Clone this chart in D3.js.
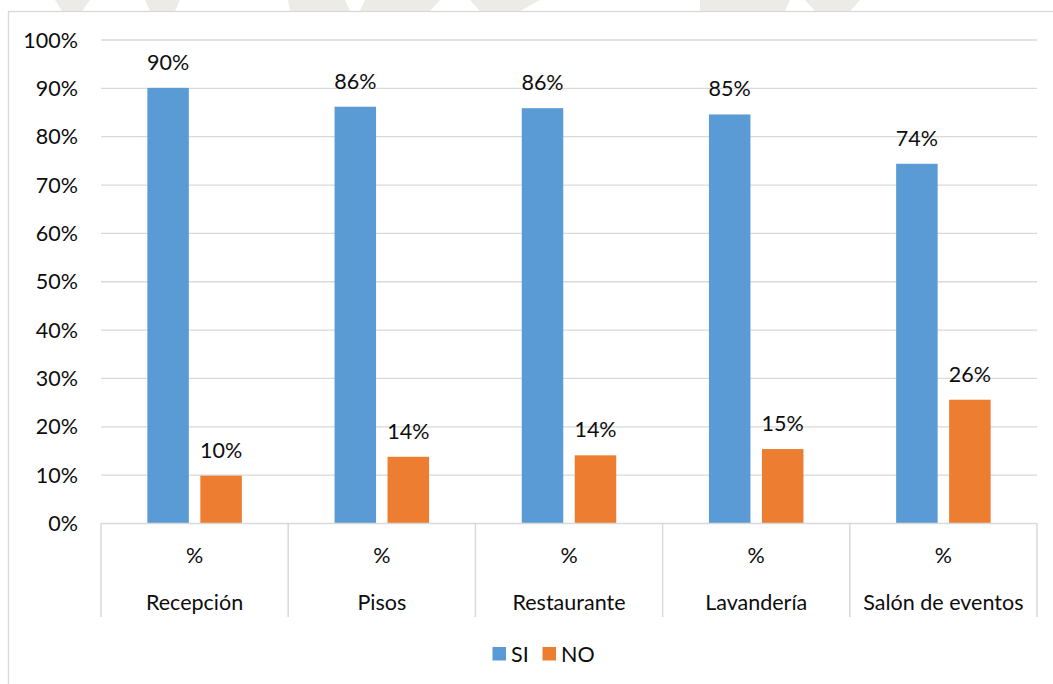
<!DOCTYPE html>
<html>
<head>
<meta charset="utf-8">
<script src="https://cdn.jsdelivr.net/npm/d3@7"></script>
<style>
  html, body { margin: 0; padding: 0; background: #ffffff; }
  svg { display: block; }
  text { font-family: Lato, "Open Sans", "Noto Sans", sans-serif; fill: #0d0d0d; }
</style>
</head>
<body>
<svg id="chart" width="1053" height="684"></svg>
<script>
// Departments (category axis) and the sub-label shown above each one
const categories = ["Recepción", "Pisos", "Restaurante", "Lavandería", "Salón de eventos"];
const subLabel = "%";

// Series: share of answers per department (percent)
const seriesNames = ["SI", "NO"];
const siValues = [90.1, 86.2, 85.9, 84.6, 74.4];
const noValues = [9.9, 13.8, 14.1, 15.4, 25.6];

// Value axis ticks (percent)
const yTicks = [0, 10, 20, 30, 40, 50, 60, 70, 80, 90, 100];

const colors = { SI: "#5B9BD5", NO: "#ED7D31" };
const gridColor = "#d9d9d9";
const fontSize = 21.5;

const svg = d3.select("#chart");
const W = 1053, H = 684;

// Faint background shapes outside the chart frame
const bg = svg.append("g").attr("fill", "#ecebe5");
[
  [[55, 0], [90, 0], [82, 11], [62, 11]],
  [[145, 0], [180, 0], [175, 11], [150, 11]],
  [[288, 0], [345, 0], [350, 11], [290, 11]],
  [[365, 0], [440, 0], [430, 11], [360, 11]],
  [[470, 0], [540, 0], [520, 11], [480, 11]],
  [[700, 0], [790, 0], [785, 11], [700, 11]],
  [[805, 0], [860, 0], [850, 11], [815, 11]]
].forEach(pts => bg.append("polygon").attr("points", pts.map(p => p.join(",")).join(" ")));

// Chart frame
svg.append("rect")
  .attr("x", 8.5).attr("y", 11.5)
  .attr("width", W + 20).attr("height", H + 20)
  .attr("fill", "#ffffff")
  .attr("stroke", gridColor).attr("stroke-width", 1.3);

const plot = { left: 101, right: 1037, top: 40, bottom: 523.5 };

const x = d3.scaleBand()
  .domain(categories)
  .range([plot.left, plot.right])
  .paddingInner(0).paddingOuter(0);

const y = d3.scaleLinear()
  .domain([0, 100])
  .range([plot.bottom, plot.top]);

// Horizontal gridlines
svg.append("g")
  .selectAll("line")
  .data(yTicks.filter(t => t > 0))
  .join("line")
  .attr("x1", plot.left).attr("x2", plot.right)
  .attr("y1", d => y(d)).attr("y2", d => y(d))
  .attr("stroke", gridColor).attr("stroke-width", 1.3);

// Value axis labels
svg.append("g")
  .selectAll("text")
  .data(yTicks)
  .join("text")
  .attr("x", 78)
  .attr("y", d => y(d))
  .attr("dy", "0.35em")
  .attr("text-anchor", "end")
  .attr("font-size", fontSize)
  .text(d => d + "%");

// Bars
const barW = 41.5, barGap = 11.5;
const inner = d3.scaleBand()
  .domain(seriesNames)
  .range([0, 2 * barW + barGap]);

const rows = categories.map((c, i) => ({ cat: c, SI: siValues[i], NO: noValues[i] }));
const fmt = v => Math.round(v) + "%";

const groups = svg.append("g")
  .selectAll("g")
  .data(rows)
  .join("g")
  .attr("transform", d => `translate(${x(d.cat) + x.bandwidth() / 2 - (2 * barW + barGap) / 2},0)`);

seriesNames.forEach(s => {
  groups.append("rect")
    .attr("x", s === "SI" ? 0 : barW + barGap)
    .attr("y", d => y(d[s]))
    .attr("width", barW)
    .attr("height", d => y(0) - y(d[s]))
    .attr("fill", colors[s]);

  groups.append("text")
    .attr("x", (s === "SI" ? 0 : barW + barGap) + barW / 2)
    .attr("y", d => y(d[s]) - 18)
    .attr("text-anchor", "middle")
    .attr("font-size", fontSize)
    .text(d => fmt(d[s]));
});

// Category axis: baseline plus dividers
const axisG = svg.append("g");
axisG.append("line")
  .attr("x1", plot.left).attr("x2", plot.right)
  .attr("y1", plot.bottom).attr("y2", plot.bottom)
  .attr("stroke", gridColor).attr("stroke-width", 1.5);

const dividers = categories.map(c => x(c)).concat([plot.right]);
axisG.selectAll("line.div")
  .data(dividers)
  .join("line")
  .attr("class", "div")
  .attr("x1", d => d).attr("x2", d => d)
  .attr("y1", plot.bottom).attr("y2", 617)
  .attr("stroke", gridColor).attr("stroke-width", 1.5);

axisG.selectAll("text.sub")
  .data(categories)
  .join("text")
  .attr("class", "sub")
  .attr("x", d => x(d) + x.bandwidth() / 2)
  .attr("y", 555)
  .attr("dy", "0.35em")
  .attr("text-anchor", "middle")
  .attr("font-size", fontSize)
  .text(subLabel);

axisG.selectAll("text.cat")
  .data(categories)
  .join("text")
  .attr("class", "cat")
  .attr("x", d => x(d) + x.bandwidth() / 2)
  .attr("y", 602)
  .attr("dy", "0.35em")
  .attr("text-anchor", "middle")
  .attr("font-size", fontSize)
  .text(d => d);

// Legend
const legend = svg.append("g");
const legendItems = [{ name: "SI", x: 492.5 }, { name: "NO", x: 542.5 }];
legendItems.forEach(it => {
  legend.append("rect")
    .attr("x", it.x).attr("y", 647)
    .attr("width", 13.5).attr("height", 13.5)
    .attr("fill", colors[it.name]);
  legend.append("text")
    .attr("x", it.x + 18.5).attr("y", 654)
    .attr("dy", "0.35em")
    .attr("font-size", fontSize)
    .text(it.name);
});
</script>
</body>
</html>
